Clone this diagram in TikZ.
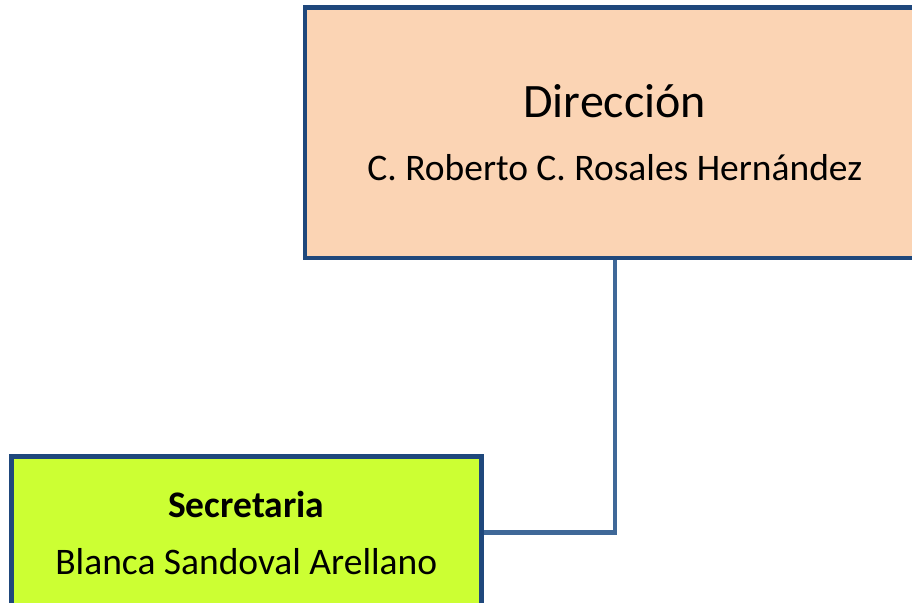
\documentclass[tikz,border=0pt]{standalone}
\usepackage{fontspec}
\setmainfont{Carlito}
\definecolor{frameblue}{HTML}{1F487C}
\definecolor{linkblue}{HTML}{3F6898}
\definecolor{peach}{HTML}{FBD4B4}
\definecolor{lime}{HTML}{CCFF33}
\begin{document}
\begin{tikzpicture}[
    x=1pt, y=1pt,
    head/.style={rectangle, draw=frameblue, fill=peach, line width=4.5pt, minimum width=620pt, minimum height=250pt, align=center, font=\fontsize{37.5}{44}\selectfont},
    staff/.style={rectangle, draw=frameblue, fill=lime, line width=4.5pt, minimum width=470pt, minimum height=152pt, align=center, font=\fontsize{37.5}{44}\selectfont},
    link/.style={draw=linkblue, line width=4.5pt}
]
    \useasboundingbox (0,0) rectangle (912,-602);
    % Boxes
    \node [head] (direccion) at (614.75,-132.75) {{\fontsize{48}{56}\selectfont Dirección}\\[19pt] C. Roberto C. Rosales Hernández};
    \node [staff] (secretaria) at (246.25,-532.5) {\textbf{Secretaria}\\[13pt] Blanca Sandoval Arellano};

    % Connection
    \draw [link] (direccion.south) |- (secretaria.east);
\end{tikzpicture}
\end{document}
